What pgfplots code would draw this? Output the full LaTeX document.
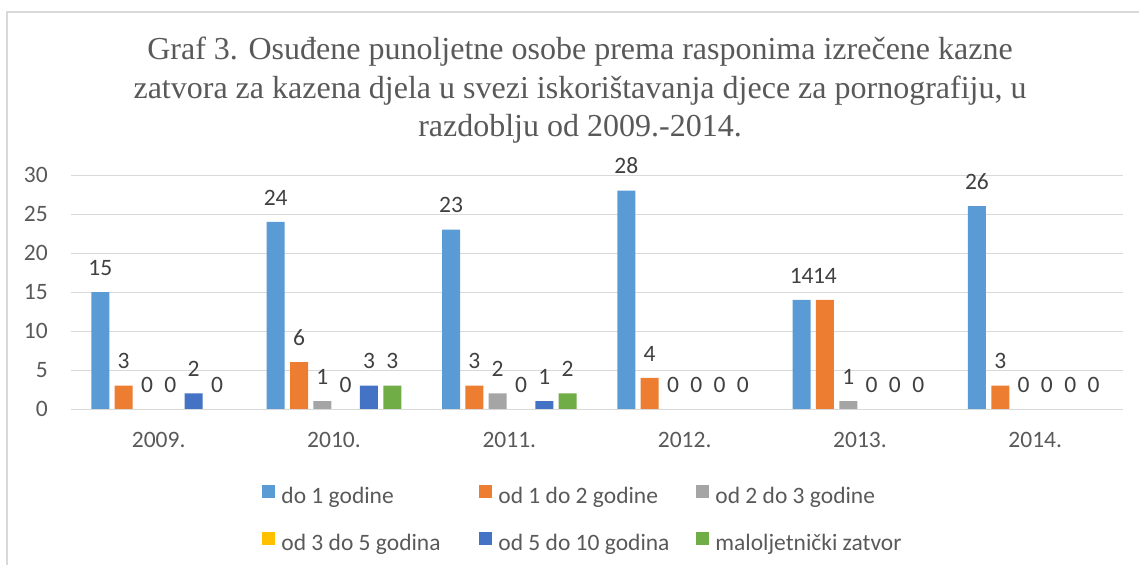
\documentclass[border=0pt]{standalone}
\usepackage{fontspec}
\setmainfont{Liberation Serif}
\newfontfamily\calfont{Carlito}
\usepackage{pgfplots}
\pgfplotsset{compat=1.18}
\definecolor{cA}{HTML}{5B9BD5}
\definecolor{cB}{HTML}{ED7D31}
\definecolor{cC}{HTML}{A5A5A5}
\definecolor{cD}{HTML}{FFC000}
\definecolor{cE}{HTML}{4472C4}
\definecolor{cF}{HTML}{70AD47}
\definecolor{txt}{HTML}{595959}
\definecolor{lab}{HTML}{404040}
\definecolor{gridc}{HTML}{D9D9D9}
\newcommand{\lent}[1]{\makebox[198bp][l]{#1}}
\begin{document}
\begin{tikzpicture}
\useasboundingbox (0,0) rectangle (1139bp,565bp);
\draw[gridc, line width=1.2bp] (7bp,-20bp) |- (1200bp,553bp);
\begin{axis}[
  at={(71bp,156bp)}, anchor=south west,
  scale only axis, width=1052bp, height=234bp,
  xmin=-0.5, xmax=5.5, ymin=0, ymax=30,
  ytick={0,5,...,30},
  xtick={0,...,5},
  xticklabels={2009.,2010.,2011.,2012.,2013.,2014.},
  axis line style={draw=none},
  major tick length=0,
  ymajorgrids, grid style={gridc, line width=1bp},
  /pgf/number format/assume math mode=true,
  tick label style={font=\calfont\fontsize{23.5bp}{27bp}\selectfont, text=txt, inner sep=0pt},
  yticklabel style={anchor=east, xshift=-23bp},
  xticklabel style={anchor=north, yshift=-23bp},
  ybar, bar width=0.1027,
  nodes near coords,
  every node near coord/.append style={font=\calfont\fontsize{23.5bp}{27bp}\selectfont, text=lab, anchor=south, inner sep=0pt, yshift=16.5bp},
  legend columns=3,
  legend cell align=left,
  legend image code/.code={\path[#1] (0bp,0bp) rectangle (13bp,13bp);},
  legend style={at={(0.1818,-0.3248)}, anchor=north west, draw=none, fill=none, inner sep=0pt,
    row sep=23.7bp,
    /tikz/every odd column/.append style={column sep=6bp},
    nodes={font=\calfont\fontsize{23.5bp}{27bp}\selectfont, text=txt, inner sep=0pt, text height=16bp, text depth=5bp}},
]
\addplot[fill=cA, draw=none, bar shift=-0.3325] coordinates {(0,15) (1,24) (2,23) (3,28) (4,14) (5,26)};
\addplot[fill=cB, draw=none, bar shift=-0.1995] coordinates {(0,3) (1,6) (2,3) (3,4) (4,14) (5,3)};
\addplot[fill=cC, draw=none, bar shift=-0.0665] coordinates {(0,0) (1,1) (2,2) (3,0) (4,1) (5,0)};
\addplot[fill=cD, draw=none, bar shift=0.0665] coordinates {(0,0) (1,0) (2,0) (3,0) (4,0) (5,0)};
\addplot[fill=cE, draw=none, bar shift=0.1995] coordinates {(0,2) (1,3) (2,1) (3,0) (4,0) (5,0)};
\addplot[fill=cF, draw=none, bar shift=0.3325] coordinates {(0,0) (1,3) (2,2) (3,0) (4,0) (5,0)};
\legend{\lent{do 1 godine}, \lent{od 1 do 2 godine}, \lent{od 2 do 3 godine}, \lent{od 3 do 5 godina}, \lent{od 5 do 10 godina}, \lent{maloljetnički zatvor}}
\end{axis}
\begin{scope}[every node/.style={font=\fontsize{32bp}{38bp}\selectfont, text=txt, anchor=base, inner sep=0pt}]
\node at (580bp,505bp) {Graf 3. Osuđene punoljetne osobe prema rasponima izrečene kazne};
\node at (580bp,466.5bp) {zatvora za kazena djela u svezi iskorištavanja djece za pornografiju, u};
\node at (580bp,428bp) {razdoblju od 2009.-2014.};
\end{scope}
\end{tikzpicture}
\end{document}
